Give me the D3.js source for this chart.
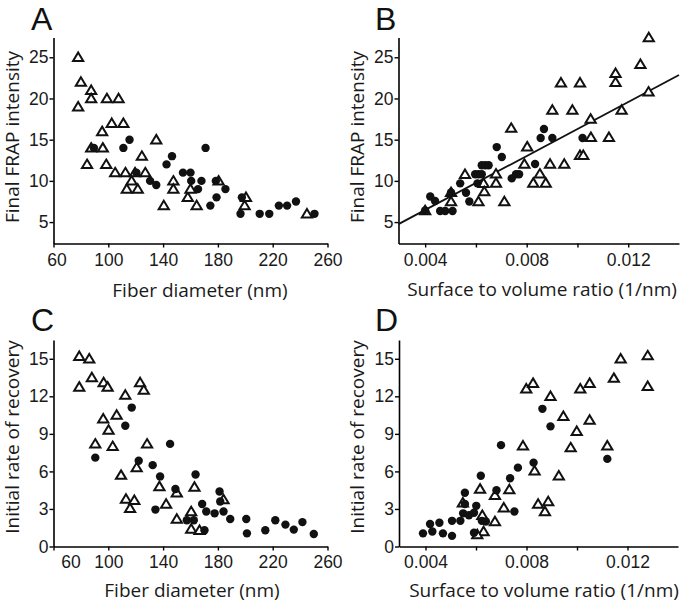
<!DOCTYPE html>
<html><head><meta charset="utf-8">
<script src="https://cdn.jsdelivr.net/npm/d3@7"></script>
<style>body{margin:0;background:#fff}</style>
</head><body>
<svg id="c" width="692" height="603"></svg>
<script>
// ---------- data ----------
const diamTicks = [60, 100, 140, 180, 220, 260];
const ratioTicks = [0.004, 0.006, 0.008, 0.010, 0.012];
const ratioTickLabels = ["0.004", "", "0.008", "", "0.012"];
const frapTicks = [5, 10, 15, 20, 25];
const rateTicks = [0, 3, 6, 9, 12, 15];

const titleDiam = "Fiber diameter (nm)";
const titleRatio = "Surface to volume ratio (1/nm)";
const titleFrap = "Final FRAP intensity";
const titleRate = "Initial rate of recovery";

// Panel A: fiber diameter vs final FRAP intensity
const A_tri = [[78,25],[80,22],[87.5,21],[87.5,20],[78,19],[99,20],[107.5,20],[102.5,17],[111,17],[95.5,16],[96,14],[87.5,14],[84.5,12],[98.5,12],[124.5,13],[105,11],[112.5,11],[119.5,11],[127,11],[117,10],[113.5,9],[121.5,9],[135,15],[147.5,10],[147.5,9],[140.5,7],[158,8],[160,9],[164.5,7],[180.5,10],[200.5,8],[199.5,7],[245,6]];
const A_circ = [[89.5,14],[115.5,15],[111,14],[142.5,12],[146.5,13],[120.5,11],[130.5,10],[135,9.5],[154.5,11],[160,11],[160.5,10],[168,10],[165.5,9],[171,14],[178.5,10],[185.5,9],[179,8],[174.5,7],[197.5,8],[196.5,6],[210.5,6],[217.5,6],[224.5,7],[230.5,7],[237,7.5],[250.5,6]];

// Panel B: surface to volume ratio vs final FRAP intensity
const B_tri = [[0.0040,6.4],[0.00502,8.6],[0.00502,7.5],[0.00557,10.8],[0.00610,7.5],[0.00630,9.7],[0.00633,8.7],[0.00679,10.85],[0.00679,9.75],[0.00712,7.5],[0.00739,16.4],[0.00802,14.15],[0.00791,12.05],[0.00892,12.05],[0.00948,12.05],[0.00852,10.85],[0.00826,9.75],[0.00875,9.75],[0.00935,21.9],[0.00901,18.6],[0.00980,18.6],[0.01010,21.9],[0.01052,17.5],[0.01053,15.3],[0.01124,15.3],[0.01010,13.1],[0.01023,13.1],[0.01150,23.05],[0.01150,21.95],[0.01174,18.6],[0.01281,27.4],[0.01248,24.15],[0.01280,20.8]];
const B_circ = [[0.00400,6.4],[0.00420,8.1],[0.00439,7.55],[0.00459,6.35],[0.00479,6.35],[0.00508,6.35],[0.00502,8.6],[0.00538,9.7],[0.00561,8.55],[0.00574,7.5],[0.00597,10.8],[0.00610,10.8],[0.00623,10.8],[0.00606,9.7],[0.00623,11.9],[0.00637,11.9],[0.00650,11.9],[0.00682,14.1],[0.00702,12.9],[0.00741,10.3],[0.00758,10.8],[0.00770,10.8],[0.00833,12.05],[0.00855,15.2],[0.00868,16.3],[0.00901,15.2],[0.01020,15.2]];
const B_fitX = [0.00295, 0.014];
const B_fitY = [4.75, 22.85];

// Panel C: fiber diameter vs initial rate of recovery
const C_tri = [[78.8,15.2],[86.1,15.0],[78.8,12.75],[88,13.5],[96.6,13.1],[99.5,12.75],[112.4,12.1],[123.2,13.1],[125.9,12.5],[96.3,10.2],[106.1,10.5],[100.2,9.3],[90.5,8.2],[103.2,8.0],[128.3,8.2],[109.3,5.7],[120.7,6.3],[112.9,3.8],[119,3.7],[115.9,3.05],[137.3,4.8],[142.2,3.4],[150,2.2],[150,4.3],[162.9,4.75],[160.5,2.8],[160.5,1.4],[166.6,1.3],[184.1,3.75]];
const C_circ = [[117.1,11.1],[112.4,9.65],[90.5,7.1],[145.1,8.2],[122.2,6.85],[132.4,6.5],[137.8,5.6],[149,4.6],[163.7,5.75],[134.4,2.95],[157.3,2.1],[162.4,2.1],[168.5,3.4],[171.5,2.8],[177.6,2.65],[181.2,4.4],[181.7,3.6],[184.1,2.8],[189,2.2],[170.2,1.3],[200.7,2.2],[201.2,1.05],[214.6,1.3],[221.9,2.1],[229.3,1.75],[235.4,1.35],[241.7,1.95],[250,1.0]];

// Panel D: surface to volume ratio vs initial rate of recovery
const D_tri = [[0.0128,15.25],[0.0128,12.8],[0.01173,15.0],[0.01146,13.45],[0.00799,12.6],[0.00826,13.05],[0.00895,12.0],[0.01013,12.6],[0.0105,13.05],[0.00946,10.4],[0.0105,10.1],[0.00999,9.2],[0.00975,7.9],[0.0112,8.05],[0.00786,8.05],[0.00928,5.65],[0.00832,6.05],[0.00846,3.4],[0.00886,3.6],[0.00873,2.8],[0.00732,4.55],[0.0071,3.1],[0.00675,4.1],[0.00616,4.6],[0.00625,2.5],[0.00675,2.0],[0.0063,1.2],[0.00605,0.95],[0.00548,3.5]];
const D_circ = [[0.00863,11.0],[0.00895,9.6],[0.00699,8.1],[0.0112,7.0],[0.00766,6.3],[0.00828,6.7],[0.00735,5.45],[0.00619,5.65],[0.00681,4.5],[0.00752,2.8],[0.00556,4.3],[0.00556,3.4],[0.00601,3.25],[0.00549,2.65],[0.00572,2.5],[0.00592,2.7],[0.00623,2.05],[0.00639,2.0],[0.00538,2.05],[0.00505,2.05],[0.00469,1.05],[0.00505,0.85],[0.0039,1.05],[0.00418,1.8],[0.00427,1.2],[0.00455,1.9],[0.00592,1.1]];

// ---------- drawing ----------
const svg = d3.select("#c");
svg.append("rect").attr("width",692).attr("height",603).attr("fill","#fff");

const TICK_FONT = "'Liberation Sans', Arial, sans-serif";
const TITLE_FONT = "'Open Sans', sans-serif";
const triPath = "M0,-4.8L5.1,3.7L-5.1,3.7Z";

function panel(cfg) {
  const g = svg.append("g");
  const x = d3.scaleLinear().domain(cfg.xDomain).range(cfg.xRange);
  const y = d3.scaleLinear().domain(cfg.yDomain).range(cfg.yRange);

  // x axis
  const xAxis = d3.axisBottom(x).tickValues(cfg.xTicks).tickSize(4).tickSizeOuter(0)
    .tickFormat((d,i) => cfg.xLabels ? cfg.xLabels[i] : d);
  const gx = g.append("g").attr("transform", `translate(0,${cfg.yRange[0]})`).call(xAxis);
  gx.select(".domain").attr("stroke","#000").attr("stroke-width",1.6);
  gx.selectAll(".tick line").attr("stroke","#000").attr("stroke-width",1.4);
  gx.selectAll(".tick text").attr("font-family",TICK_FONT).attr("font-size",17.5)
    .attr("fill","#1a1a1a").attr("y",cfg.xLabY).attr("dx",(d,i)=> i===0 ? cfg.firstDx : 0);

  // y axis
  const yAxis = d3.axisLeft(y).tickValues(cfg.yTicks).tickSize(4).tickSizeOuter(0);
  const gy = g.append("g").attr("transform", `translate(${cfg.xRange[0]},0)`).call(yAxis);
  gy.select(".domain").attr("stroke","#000").attr("stroke-width",1.6);
  gy.selectAll(".tick line").attr("stroke","#000").attr("stroke-width",1.4);
  gy.selectAll(".tick text").attr("font-family",TICK_FONT).attr("font-size",17.5)
    .attr("fill","#1a1a1a").attr("x",-5);

  // fit line
  if (cfg.fitX) {
    g.append("line")
      .attr("x1", x(cfg.fitX[0])).attr("y1", y(cfg.fitY[0]))
      .attr("x2", x(cfg.fitX[1])).attr("y2", y(cfg.fitY[1]))
      .attr("stroke","#111").attr("stroke-width",1.8);
  }

  // triangles
  g.append("g").selectAll("path").data(cfg.tri).join("path")
    .attr("d", triPath)
    .attr("transform", d => `translate(${x(d[0])},${y(d[1])})`)
    .attr("fill","#fff").attr("stroke","#111").attr("stroke-width",2)
    .attr("stroke-linejoin","miter");
  // circles
  g.append("g").selectAll("circle").data(cfg.circ).join("circle")
    .attr("cx", d => x(d[0])).attr("cy", d => y(d[1])).attr("r", 4.2)
    .attr("fill","#111");

  // axis titles
  g.append("text").attr("x", cfg.xTitlePos[0]).attr("y", cfg.xTitlePos[1])
    .attr("text-anchor","middle").attr("font-family",TITLE_FONT).attr("font-size",19)
    .attr("fill","#1a1a1a").text(cfg.xTitle);
  g.append("text")
    .attr("transform", `translate(${cfg.yTitlePos[0]},${cfg.yTitlePos[1]}) rotate(-90)`)
    .attr("text-anchor","middle").attr("font-family",TITLE_FONT).attr("font-size",19)
    .attr("fill","#1a1a1a").text(cfg.yTitle);

  // panel letter
  g.append("text").attr("x", cfg.letterPos[0]).attr("y", cfg.letterPos[1])
    .attr("font-family",TICK_FONT).attr("font-size",32).attr("fill","#111").text(cfg.letter);
}

panel({letter:"A", letterPos:[31,30],
  xDomain:[60,260], xRange:[53.5,327.5], yDomain:[2.4,27.4], yRange:[243.5,37.5],
  xTicks:diamTicks, yTicks:frapTicks, firstDx:3, xLabY:10,
  tri:A_tri, circ:A_circ,
  xTitle:titleDiam, xTitlePos:[200,297], yTitle:titleFrap, yTitlePos:[19,137]});

panel({letter:"B", letterPos:[375,30],
  xDomain:[0.00295,0.014], xRange:[398.5,679], yDomain:[2.4,27.4], yRange:[243.5,37.5],
  xTicks:ratioTicks, xLabels:ratioTickLabels, yTicks:frapTicks, firstDx:0, xLabY:10,
  tri:B_tri, circ:B_circ, fitX:B_fitX, fitY:B_fitY,
  xTitle:titleRatio, xTitlePos:[542,296], yTitle:titleFrap, yTitlePos:[364,137]});

panel({letter:"C", letterPos:[31,331],
  xDomain:[60,260], xRange:[53.5,327.5], yDomain:[0,16.5], yRange:[546.5,340],
  xTicks:diamTicks, yTicks:rateTicks, firstDx:17, xLabY:9,
  tri:C_tri, circ:C_circ,
  xTitle:titleDiam, xTitlePos:[192,597], yTitle:titleRate, yTitlePos:[19,437]});

panel({letter:"D", letterPos:[375,331],
  xDomain:[0.00295,0.014], xRange:[399,678], yDomain:[0,16.5], yRange:[546.5,340],
  xTicks:ratioTicks, xLabels:ratioTickLabels, yTicks:rateTicks, firstDx:0, xLabY:9,
  tri:D_tri, circ:D_circ,
  xTitle:titleRatio, xTitlePos:[544,597], yTitle:titleRate, yTitlePos:[364,437]});
</script>
</body></html>
